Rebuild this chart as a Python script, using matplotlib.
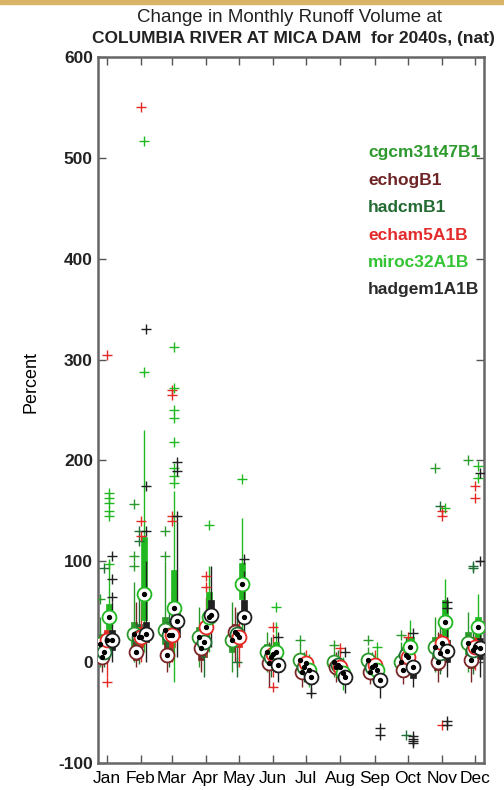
import matplotlib
matplotlib.use('Agg')
import matplotlib.pyplot as plt
import numpy as np

plt.rcParams['font.family'] = ['Liberation Sans', 'DejaVu Sans']

months = ['Jan', 'Feb', 'Mar', 'Apr', 'May', 'Jun', 'Jul', 'Aug', 'Sep', 'Oct', 'Nov', 'Dec']
month_days = [1, 32, 60, 91, 121, 152, 182, 213, 244, 274, 305, 335]

models = ['cgcm31t47B1', 'echogB1', 'hadcmB1', 'echam5A1B', 'miroc32A1B', 'hadgem1A1B']

# cgcm31t47B1
cg_med = [18, 28, 32, 25, 22, 10, 2, 0, 2, 0, 15, 19]
cg_q1 = [8, 15, 18, 12, 10, 3, -5, -6, -5, -8, 5, 8]
cg_q3 = [28, 40, 45, 35, 35, 18, 8, 6, 8, 8, 25, 30]
cg_lo = [-5, 0, 0, -5, -10, -10, -15, -15, -12, -15, -10, -10]
cg_hi = [45, 80, 100, 55, 60, 30, 18, 12, 15, 20, 45, 50]
cg_out = [[63], [95, 105, 157], [130, 105], [], [], [], [22], [17], [22], [27], [193], [200]]

# echogB1
eg_med = [5, 10, 7, 14, 30, -1, -10, -5, -10, -8, 0, 2]
eg_q1 = [0, 2, 0, 2, 20, -8, -15, -12, -16, -15, -8, -6]
eg_q3 = [12, 25, 20, 22, 38, 8, -3, 2, -3, 0, 10, 10]
eg_lo = [-10, -5, -10, -10, 0, -25, -25, -20, -22, -22, -20, -20]
eg_hi = [25, 60, 40, 40, 55, 20, 5, 10, 5, 10, 30, 25]
eg_out = [[], [], [], [], [], [], [], [], [], [], [], []]

# hadcmB1
hc_med = [10, 25, 27, 20, 28, 5, -5, -3, -5, 7, 9, 12]
hc_q1 = [3, 12, 12, 5, 15, -3, -12, -10, -12, -2, 0, 3]
hc_q3 = [18, 38, 40, 30, 35, 12, 2, 4, 2, 15, 18, 22]
hc_lo = [-5, -2, -5, -15, -15, -15, -20, -18, -18, -12, -12, -12]
hc_hi = [30, 70, 60, 50, 50, 25, 10, 12, 10, 25, 35, 35]
hc_out = [[93], [130, 120], [], [], [0], [], [], [], [], [-72], [155], [95, 93]]

# echam5A1B
e5_med = [22, 25, 27, 35, 25, 8, -1, -5, -3, 5, 19, 15]
e5_q1 = [12, 15, 15, 22, 15, 0, -8, -12, -10, -3, 8, 5]
e5_q3 = [32, 35, 38, 45, 35, 15, 5, 3, 4, 12, 28, 25]
e5_lo = [-15, 0, 0, 5, -5, -15, -15, -20, -18, -10, -5, -8]
e5_hi = [40, 60, 70, 65, 45, 28, 12, 14, 12, 22, 40, 40]
e5_out = [[305, -20], [550, 140, 125], [270, 265, 145, 140], [85, 75], [], [35, -25],
          [], [14], [], [25], [150, 145, -62], [175, 163]]

# miroc32A1B
mi_med = [45, 68, 54, 45, 78, 10, -8, -11, -8, 15, 40, 35]
mi_q1 = [33, 42, 42, 35, 63, 3, -15, -18, -15, 5, 25, 25]
mi_q3 = [58, 124, 91, 70, 98, 20, 0, -4, 0, 25, 62, 45]
mi_lo = [10, 10, -20, 10, 25, -5, -25, -28, -25, -5, 5, 5]
mi_hi = [100, 230, 170, 95, 143, 40, 8, 5, 10, 42, 83, 68]
mi_out = [[145, 150, 158, 163, 168, 97], [517, 288], [312, 272, 250, 242, 218, 193, 185, 178],
          [136], [182], [55], [], [], [15], [], [153], [195, 183]]

# hadgem1A1B
hg_med = [22, 28, 41, 47, 45, -3, -15, -15, -18, -5, 11, 14]
hg_q1 = [12, 20, 25, 40, 45, -10, -22, -22, -25, -16, 0, 3]
hg_q3 = [32, 40, 49, 62, 62, 5, -8, -8, -10, 0, 22, 24]
hg_lo = [0, 0, 5, 15, 20, -20, -32, -30, -35, -25, -15, -15]
hg_hi = [60, 100, 140, 95, 90, 18, 0, 0, 0, 15, 45, 40]
hg_out = [[65, 83, 105], [330, 175, 130], [198, 190, 145], [], [102], [25], [-30], [10],
          [-65, -72], [29, -73, -76, -78, -80], [60, 54, -58, -62], [188, 100]]

series = [
    (cg_med, cg_q1, cg_q3, cg_lo, cg_hi, cg_out),
    (eg_med, eg_q1, eg_q3, eg_lo, eg_hi, eg_out),
    (hc_med, hc_q1, hc_q3, hc_lo, hc_hi, hc_out),
    (e5_med, e5_q1, e5_q3, e5_lo, e5_hi, e5_out),
    (mi_med, mi_q1, mi_q3, mi_lo, mi_hi, mi_out),
    (hg_med, hg_q1, hg_q3, hg_lo, hg_hi, hg_out),
]
colors = ['#2a9a2a', '#7a2626', '#1f6e33', '#e42a24', '#22b822', '#202020']
text_colors = ['#2e9a2e', '#6e2424', '#236b33', '#e32b2b', '#35c435', '#2a2a2a']
offsets = [-6, -4, -2, 0, 2.5, 4.5]
box_w = 5.5

fig = plt.figure(figsize=(5.04, 7.9), dpi=100)
ax = fig.add_axes([0.194, 0.034, 0.766, 0.894])

for k, (med, q1, q3, lo, hi, out) in enumerate(series):
    c = colors[k]
    x = np.array(month_days) + offsets[k]
    ax.vlines(x, lo, hi, color=c, lw=1.0, zorder=2)
    ax.bar(x, np.array(q3) - np.array(q1), bottom=q1, width=box_w, color=c,
           edgecolor=c, lw=0.5, zorder=2)
    for i in range(12):
        if out[i]:
            ax.plot([x[i]] * len(out[i]), out[i], '+', color=c, ms=7, mew=1.0, zorder=3)

for k, (med, q1, q3, lo, hi, out) in enumerate(series):
    x = np.array(month_days) + offsets[k]
    ax.plot(x, med, 'o', ms=10, mfc='white', mec=colors[k], mew=1.3, zorder=4)
    ax.plot(x, med, 'o', ms=2.8, color='black', zorder=5)

ax.set_xlim(-7, 343)
ax.set_ylim(-100, 600)
ax.set_xticks(month_days)
ax.set_xticklabels(months, fontsize=12.5)
ax.set_yticks(np.arange(-100, 601, 100))
ax.set_yticklabels(['-100'] + [str(v) for v in range(0, 601, 100)], fontsize=12.5,
                   fontweight='bold', color='#222222')
ax.tick_params(direction='in', length=6, width=1, top=True, right=True, color='#555555')
ax.tick_params(axis='x', pad=6)
for sp in ax.spines.values():
    sp.set_color('#666666')
    sp.set_linewidth(1.8)

ax.set_ylabel('Percent', fontsize=13)
ax.yaxis.set_label_coords(-0.15, 0.54)

fig.text(0.575, 0.978, 'Change in Monthly Runoff Volume at', ha='center', va='center',
         fontsize=13.5, color='#222222')
fig.text(0.582, 0.951, 'COLUMBIA RIVER AT MICA DAM  for 2040s, (nat)', ha='center',
         va='center', fontsize=12.5, fontweight='bold', color='#222222')

for k, name in enumerate(models):
    ax.text(0.70, 0.864 - k * 0.0388, name, transform=ax.transAxes, fontsize=12.5,
            fontweight='bold', color=text_colors[k], va='center', ha='left')

fig.patches.append(plt.Rectangle((0, 0.995), 1, 0.005, transform=fig.transFigure,
                                 color='#d8b466', zorder=0))

fig.savefig('out.png', dpi=100)
